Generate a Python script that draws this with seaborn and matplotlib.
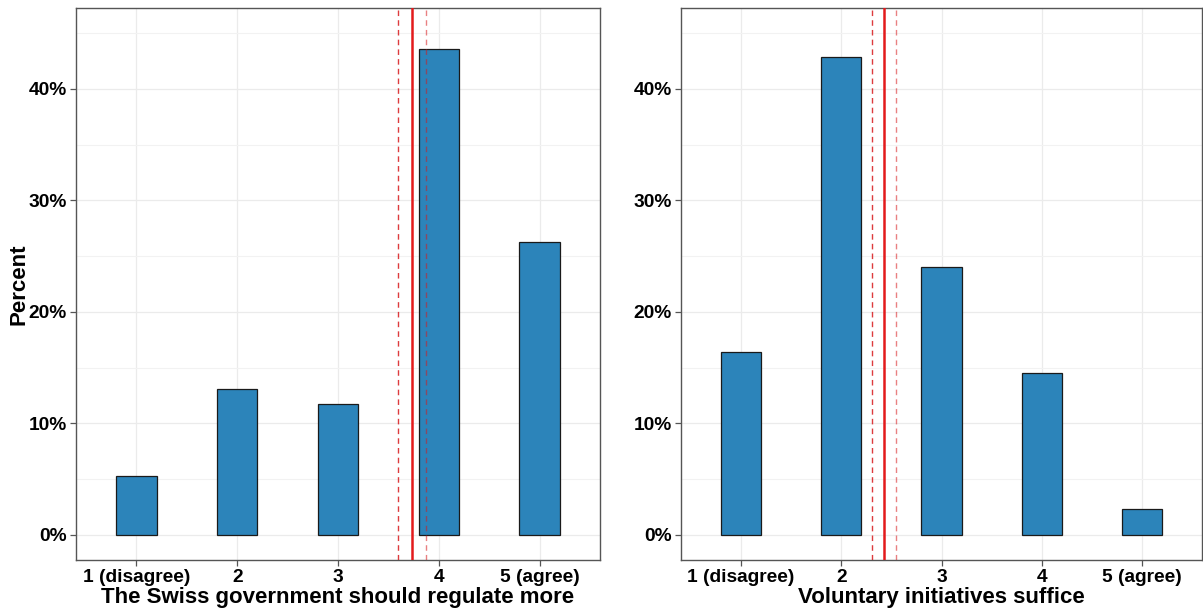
import matplotlib
matplotlib.use("Agg")
import matplotlib.pyplot as plt
from matplotlib.ticker import MultipleLocator, FuncFormatter
import seaborn as sns
import pandas as pd

# Response categories (5-point agreement scale)
left_labels = ["1 (disagree)", "2", "3", "4", "5 (agree)"]
right_labels = ["1 (disagree)", "2", "3", "4", "5 (agree)"]

# Share of respondents per answer (percent)
regulate_pct = [5.3, 13.1, 11.7, 43.6, 26.3]
voluntary_pct = [16.4, 42.9, 24.0, 14.5, 2.3]

# Mean answer and its 95% confidence interval on the 1-5 scale
regulate_mean = 3.73
regulate_ci = [3.60, 3.87]
voluntary_mean = 2.43
voluntary_ci = [2.31, 2.55]

left_title = "The Swiss government should regulate more"
right_title = "Voluntary initiatives suffice"

sns.set_theme(style="white")
plt.rcParams["font.family"] = ["Liberation Sans", "DejaVu Sans"]
plt.rcParams["font.weight"] = "bold"

BAR = "#2C84BA"
GRID = "#EBEBEB"
SPINE = "#555555"

fig = plt.figure(figsize=(12.03, 6.12), dpi=100)
W, H = 1203, 612
ax_l = fig.add_axes([76 / W, 1 - 560 / H, (600 - 76) / W, (560 - 8) / H])
ax_r = fig.add_axes([681 / W, 1 - 560 / H, (1202 - 681) / W, (560 - 8) / H])


def panel(ax, labels, pct, mean, ci, xlabel, ylabel):
    df = pd.DataFrame({"answer": labels, "pct": pct})
    sns.barplot(data=df, x="answer", y="pct", order=labels, width=0.4,
                color=BAR, saturation=1, edgecolor="#1a1a1a", linewidth=0.9,
                ax=ax, zorder=3)
    ax.set_xlim(-0.6, len(labels) - 0.4)
    ax.set_ylim(-2.25, 47.25)
    ax.yaxis.set_major_locator(MultipleLocator(10))
    ax.yaxis.set_minor_locator(MultipleLocator(5))
    ax.yaxis.set_major_formatter(FuncFormatter(lambda v, p: f"{v:.0f}%"))
    ax.grid(True, which="major", color=GRID, linewidth=0.9, zorder=0)
    ax.grid(True, which="minor", axis="y", color="#F2F2F2", linewidth=0.8, zorder=0)
    ax.set_axisbelow(True)
    # mean answer (solid) and confidence bounds (dashed); scale starts at 1
    ax.axvline(mean - 1, color="#E31A1C", linewidth=1.8, zorder=4)
    ax.axvline(ci[0] - 1, color="#D7191C", linewidth=1.0, linestyle=(0, (4, 3)),
               alpha=0.85, zorder=4)
    ax.axvline(ci[1] - 1, color="#D7191C", linewidth=1.0, linestyle=(0, (4, 3)),
               alpha=0.55, zorder=4)
    for s in ax.spines.values():
        s.set_visible(True)
        s.set_color(SPINE)
        s.set_linewidth(1.0)
    ax.tick_params(axis="both", which="major", length=4, width=0.9, color=SPINE,
                   labelsize=13.8, labelcolor="black", pad=2.5,
                   bottom=True, left=True)
    ax.tick_params(axis="both", which="minor", length=0)
    for t in ax.get_xticklabels() + ax.get_yticklabels():
        t.set_fontweight("bold")
    ax.set_xlabel(xlabel, fontsize=16, fontweight="bold", color="black", labelpad=1)
    ax.set_ylabel(ylabel, fontsize=16, fontweight="bold", color="black", labelpad=-1)


panel(ax_l, left_labels, regulate_pct, regulate_mean, regulate_ci, left_title, "Percent")
panel(ax_r, right_labels, voluntary_pct, voluntary_mean, voluntary_ci, right_title, "")

fig.savefig("out.png", dpi=100)
